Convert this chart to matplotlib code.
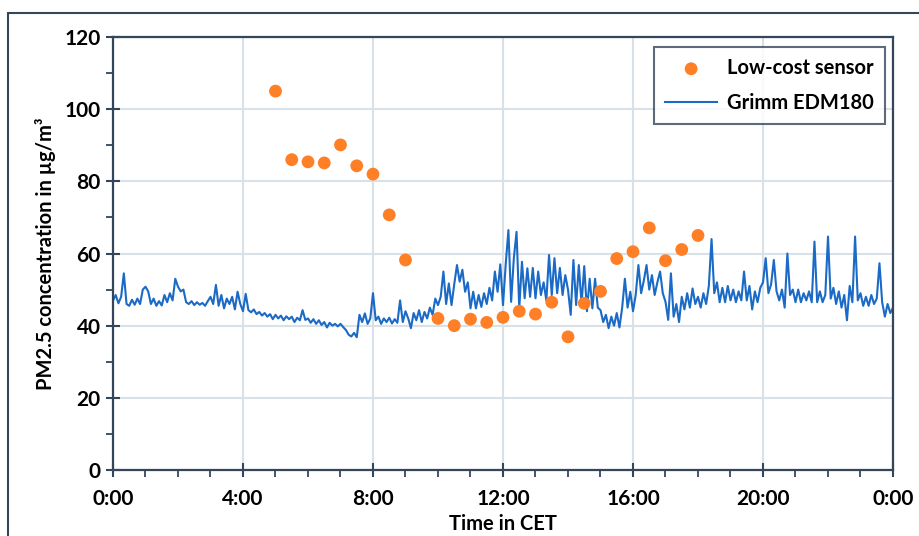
import matplotlib
matplotlib.use('Agg')
import matplotlib.pyplot as plt
from matplotlib.patches import Rectangle
from matplotlib.ticker import MultipleLocator, FuncFormatter
import numpy as np

plt.rcParams['font.family'] = ['Lato', 'DejaVu Sans']
plt.rcParams['font.weight'] = 'bold'

# low-cost sensor, half-hourly means (hours CET)
sensor_hours = [5.0, 5.5, 6.0, 6.5, 7.0, 7.5, 8.0, 8.5, 9.0,
                10.0, 10.5, 11.0, 11.5, 12.0, 12.5, 13.0, 13.5, 14.0,
                14.5, 15.0, 15.5, 16.0, 16.5, 17.0, 17.5, 18.0]
sensor_pm = [105.0, 86.0, 85.4, 85.1, 90.1, 84.3, 82.0, 70.7, 58.2,
             42.0, 40.0, 41.8, 40.9, 42.3, 44.0, 43.2, 46.5, 36.9,
             46.2, 49.5, 58.6, 60.5, 67.1, 58.0, 61.1, 65.0]

# Grimm EDM180, 5-minute values, one row per hour
grimm_pm = [
    47.0, 48.5, 46.2, 48.0, 54.5, 46.0, 45.5, 47.2, 45.8, 47.5, 46.0, 50.0,
    50.8, 49.5, 46.0, 47.5, 45.5, 46.8, 45.6, 48.5, 46.5, 49.0, 47.0, 53.0,
    50.8, 49.5, 50.0, 46.5, 46.0, 46.8, 45.7, 46.5, 45.8, 46.3, 45.5, 46.8,
    48.0, 46.0, 51.3, 45.5, 48.5, 44.8, 47.5, 46.0, 48.0, 44.5, 49.4, 46.0,
    44.0, 48.8, 44.3, 43.7, 44.5, 43.2, 43.8, 42.8, 43.5, 42.5, 43.2, 41.8,
    43.0, 42.0, 42.8, 41.5, 42.6, 41.8, 42.5, 41.0, 42.2, 41.5, 44.3, 41.6,
    42.0, 40.8, 41.8, 40.5, 41.5, 40.2, 41.0, 39.5, 40.8, 40.0, 40.5, 39.8,
    40.5, 39.6, 38.8, 37.5, 37.0, 38.0, 36.8, 43.0, 41.0, 43.4, 40.5, 42.0,
    49.0, 41.5, 42.5, 40.5, 42.0, 41.0, 42.2, 40.6, 41.8, 40.8, 47.0, 41.0,
    44.0, 42.0, 39.3, 43.5, 41.5, 44.3, 41.0, 43.8, 42.0, 45.0, 43.0, 47.5,
    45.7, 48.0, 55.0, 46.0, 51.7, 45.7, 51.5, 56.8, 52.2, 55.5, 49.4, 52.0,
    44.8, 49.4, 44.8, 48.5, 45.2, 49.0, 46.0, 50.5, 47.0, 55.0, 49.4, 57.0,
    45.7, 57.0, 66.5, 46.6, 58.7, 66.0, 44.8, 57.7, 47.6, 55.9, 48.0, 56.0,
    47.6, 55.0, 48.5, 52.0, 47.0, 59.6, 48.5, 58.7, 49.0, 56.0, 48.5, 54.0,
    50.0, 43.0, 58.2, 45.7, 56.8, 46.0, 56.5, 44.0, 53.0, 44.8, 53.0, 45.0,
    44.3, 41.0, 43.0, 39.3, 42.5, 40.0, 43.5, 39.5, 45.0, 53.0, 45.0, 49.4,
    44.0, 48.5, 56.8, 49.0, 52.5, 56.8, 50.0, 54.0, 48.5, 52.0, 55.0, 49.0,
    46.6, 41.6, 54.5, 42.5, 46.0, 41.0, 48.0, 44.5, 49.0, 45.0, 50.3, 46.0,
    48.0, 45.0, 49.0, 46.0, 51.0, 64.0, 49.0, 52.0, 46.5, 50.5, 46.5, 51.0,
    47.0, 50.0, 46.5, 49.5, 47.0, 55.0, 47.0, 51.0, 44.5, 49.5, 46.5, 50.5,
    52.0, 58.7, 49.0, 51.5, 58.2, 49.5, 47.0, 50.0, 45.0, 60.0, 48.5, 50.0,
    46.5, 50.0, 46.5, 49.0, 47.0, 49.5, 46.5, 63.3, 46.5, 49.5, 46.5, 48.5,
    64.7, 47.5, 50.5, 46.0, 49.5, 45.0, 48.5, 41.5, 51.0, 46.5, 64.7, 47.0,
    49.0, 45.5, 48.0, 45.5, 48.5, 46.0, 47.5, 57.3, 46.5, 42.5, 46.0, 43.5,
    45.0,
]
grimm_hours = np.arange(len(grimm_pm)) / 12.0

x_ticks = [0, 4, 8, 12, 16, 20, 24]

orange = '#FF7F27'
blue = '#1A6AC6'
dark = '#34465A'
grid = '#D8E0E8'

fig = plt.figure(figsize=(9.2, 5.36), dpi=100)
ax = fig.add_axes([113 / 920, 1 - 470 / 536, 780 / 920, 433 / 536])

ax.plot(grimm_hours, grimm_pm, color=blue, lw=1.5, label='Grimm EDM180', zorder=2)
ax.scatter(sensor_hours, sensor_pm, s=85, color=orange, edgecolors='none',
           label='Low-cost sensor', zorder=3)

ax.set_xlim(0, 24)
ax.set_ylim(0, 120)
ax.set_xticks(x_ticks)
ax.xaxis.set_minor_locator(MultipleLocator(1))
ax.yaxis.set_major_locator(MultipleLocator(20))
ax.yaxis.set_minor_locator(MultipleLocator(10))
ax.xaxis.set_major_formatter(FuncFormatter(lambda v, p: f'{int(v) % 24}:00'))

ax.grid(True, which='major', color=grid, lw=1.5, zorder=0)
ax.set_axisbelow(True)
for s in ax.spines.values():
    s.set_color(dark)
    s.set_linewidth(1.6)
ax.tick_params(which='major', direction='inout', length=10, width=1.5,
               color=dark, labelsize=15, pad=4)
ax.tick_params(which='minor', direction='out', length=5, width=1.3, color=dark)
for lab in ax.get_xticklabels() + ax.get_yticklabels():
    lab.set_fontweight('bold')
ax.tick_params(axis='x', which='major', pad=9)

ax.set_xlabel('Time in CET', fontsize=14.5, fontweight='bold', labelpad=3)
ax.set_ylabel('PM2.5 concentration in µg/m³', fontsize=14.5, fontweight='bold', labelpad=6)

handles, labels = ax.get_legend_handles_labels()
leg = ax.legend(handles[::-1], labels[::-1], loc='upper right',
                bbox_to_anchor=(0.99, 0.977), borderaxespad=0,
                fontsize=14.5, frameon=True,
                fancybox=False, edgecolor=dark, borderpad=0.55,
                handlelength=2.6, handletextpad=0.5, labelspacing=0.75,
                markerscale=1.0)
leg.get_frame().set_linewidth(1.5)
for t in leg.get_texts():
    t.set_fontweight('bold')

fig.patches.append(Rectangle((8 / 920, -0.2), 1.2, 1.2 - 13 / 536,
                             transform=fig.transFigure, fill=False,
                             edgecolor=dark, lw=1.5))

fig.savefig('out.png', dpi=100)
